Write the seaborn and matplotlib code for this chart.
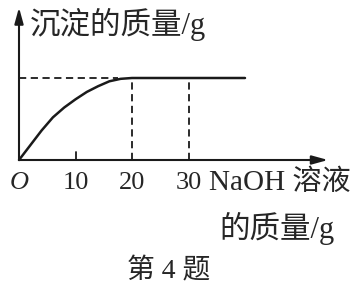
import matplotlib
matplotlib.use("Agg")
import matplotlib.pyplot as plt
import seaborn as sns
import pandas as pd

# data
naoh_mass = [0, 2, 4, 6, 8, 10, 12, 14, 16, 18, 20, 30, 40]
precip_mass = [0, 0.18, 0.36, 0.52, 0.64, 0.74, 0.83, 0.90, 0.96, 0.99, 1.0, 1.0, 1.0]
tick_values = [10, 20, 30]
tick_labels = ["10", "20", "30"]
y_label = "沉淀的质量/g"
x_label_1 = "NaOH 溶液"
x_label_2 = "的质量/g"
caption = "第 4 题"

sns.set_theme(style="white")
FAM = ["Liberation Serif", "Noto Sans CJK SC"]
plt.rcParams["font.family"] = FAM

fig = plt.figure(figsize=(3.53, 2.92), dpi=100)
ax = fig.add_axes([0, 0, 1, 1])
ax.set_xlim(-19 / 5.65, (353 - 19) / 5.65)
ax.set_ylim(-(292 - 160) / 82, 160 / 82)
ax.axis("off")

df = pd.DataFrame({"x": naoh_mass, "y": precip_mass})
sns.lineplot(data=df, x="x", y="y", ax=ax, color="#1a1a1a", lw=1.8, sort=True)

# axes with arrows
ax.annotate("", xy=(54.7, 0), xytext=(0, 0),
            arrowprops=dict(arrowstyle="-|>,head_length=0.8,head_width=0.22", color="#1a1a1a", lw=1.5,
                            shrinkA=0, shrinkB=0))
ax.annotate("", xy=(0, 1.86), xytext=(0, 0),
            arrowprops=dict(arrowstyle="-|>,head_length=0.8,head_width=0.22", color="#1a1a1a", lw=1.5,
                            shrinkA=0, shrinkB=0))

# dashed guides
plateau = precip_mass[-1]
ax.plot([0, 17.5], [plateau, plateau], ls=(0, (4, 2.5)), color="#1a1a1a", lw=1.3)
for xv in tick_values[1:]:
    ax.plot([xv, xv], [0, plateau], ls=(0, (4, 2.5)), color="#1a1a1a", lw=1.3)
ax.plot([tick_values[0], tick_values[0]], [0, 0.1], color="#1a1a1a", lw=1.3)

# tick labels
ax.text(0, -0.28, "O", ha="center", va="center", fontsize=19, style="italic", family=FAM)
for xv, lab in zip(tick_values, tick_labels):
    ax.text(xv, -0.28, lab, ha="center", va="center", fontsize=19, family=FAM)

ax.text(33.6, -0.28, x_label_1, ha="left", va="center", fontsize=21, family=FAM)
ax.text(45.6, -0.83, x_label_2, ha="center", va="center", fontsize=22, family=FAM)
ax.text(2.0, 1.65, y_label, ha="left", va="center", fontsize=22, family=FAM)
ax.text(26.5, -1.36, caption, ha="center", va="center", fontsize=20, family=FAM)

fig.savefig("out.png", dpi=100)
